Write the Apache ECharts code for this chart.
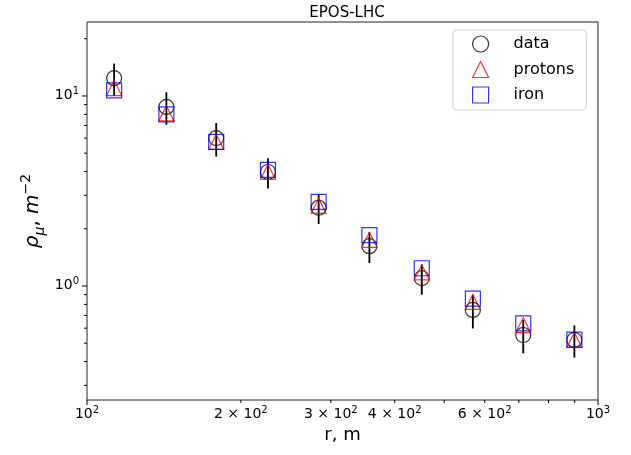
<!DOCTYPE html>
<html>
<head>
<meta charset="utf-8">
<script src="https://cdn.jsdelivr.net/npm/echarts@6/dist/echarts.min.js"></script>
<style>
  html, body { margin: 0; padding: 0; background: #fff; }
  #chart { width: 631px; height: 455px; }
</style>
</head>
<body>
<div id="chart"></div>
<script>
// distance from core, m
const r = [113, 143, 179, 226, 284, 357, 452, 569, 714, 899];
// measured muon density and its error
const dataRho = [12.4, 8.75, 6.0, 3.98, 2.58, 1.62, 1.10, 0.748, 0.552, 0.52];
const dataErr = [2.4, 1.7, 1.2, 0.72, 0.46, 0.30, 0.20, 0.15, 0.11, 0.10];
// EPOS-LHC predictions
const protons = [11.0, 8.09, 5.73, 3.98, 2.64, 1.75, 1.18, 0.824, 0.623, 0.52];
const iron = [10.7, 8.0, 5.73, 4.08, 2.77, 1.85, 1.24, 0.859, 0.635, 0.522];

// ticks (log axes, matplotlib style)
const xTicks = [100, 200, 300, 400, 500, 600, 700, 800, 900, 1000];
const xTickText = ['10^2', '2 × 10^2', '3 × 10^2', '4 × 10^2', '', '6 × 10^2', '', '', '', '10^3'];
const yTicks = [0.3, 0.4, 0.5, 0.6, 0.7, 0.8, 0.9, 1, 2, 3, 4, 5, 6, 7, 8, 9, 10, 20];
const yTickText = ['', '', '', '', '', '', '', '10^0', '', '', '', '', '', '', '', '', '10^1', ''];
const majors = [1, 10, 100, 1000];

const xMin = 100, xMax = 1000, yMin = 0.2512, yMax = 24.5;
const font = 'DejaVu Sans';

const chart = echarts.init(document.getElementById('chart'));

const supRich = {
  b: { fontSize: 14, lineHeight: 18, fontFamily: font, color: '#000' },
  s: { fontSize: 10, lineHeight: 7, verticalAlign: 'top', fontFamily: font, color: '#000' }
};
const toRich = (t) => {
  const p = t.split('^');
  return '{b|' + p[0] + '}{s|' + p[1] + '}';
};

const tickSeries = (axis) => ({
  type: 'custom',
  silent: true,
  clip: false,
  z: 1,
  data: (axis === 'x' ? xTicks : yTicks).map((v, i) => [v, i]),
  renderItem: function (params, api) {
    const v = api.value(0);
    const i = api.value(1);
    const len = majors.indexOf(v) >= 0 ? 5 : 3;
    const txt = axis === 'x' ? xTickText[i] : yTickText[i];
    const children = [];
    if (axis === 'x') {
      const p = api.coord([v, yMin]);
      children.push({ type: 'line', shape: { x1: p[0], y1: p[1], x2: p[0], y2: p[1] + len }, style: { stroke: '#000', lineWidth: 1 } });
      if (txt) children.push({ type: 'text', x: p[0], y: p[1] + 5, style: { text: toRich(txt), rich: supRich, align: 'center', verticalAlign: 'top' } });
    } else {
      const p = api.coord([xMin, v]);
      children.push({ type: 'line', shape: { x1: p[0], y1: p[1], x2: p[0] - len, y2: p[1] }, style: { stroke: '#000', lineWidth: 1 } });
      if (txt) children.push({ type: 'text', x: p[0] - 8, y: p[1] - 1, style: { text: toRich(txt), rich: supRich, align: 'right', verticalAlign: 'middle' } });
    }
    return { type: 'group', children: children };
  }
});

const option = {
  animation: false,
  backgroundColor: '#fff',
  title: {
    text: 'EPOS-LHC',
    left: 342,
    top: 1,
    textAlign: 'center',
    textStyle: { fontFamily: font, fontSize: 15, fontWeight: 'normal', color: '#000' }
  },
  grid: {
    left: 87, right: 33, top: 22, bottom: 55,
    show: true, borderColor: '#222', borderWidth: 1, backgroundColor: 'transparent'
  },
  legend: {
    orient: 'vertical',
    left: 453,
    top: 30,
    padding: [5, 12, 6, 19],
    itemWidth: 16,
    itemHeight: 16,
    itemGap: 7.5,
    backgroundColor: 'rgba(255,255,255,0.85)',
    borderColor: '#d0d0d0',
    borderWidth: 1,
    borderRadius: 4,
    textStyle: { fontFamily: font, fontSize: 16, lineHeight: 18, color: '#000', padding: [0, 0, 0, 20] },
    data: [
      { name: 'data', icon: 'circle', itemStyle: { color: 'rgba(0,0,0,0)', borderColor: '#000', borderWidth: 1.2 } },
      { name: 'protons', icon: 'triangle', itemStyle: { color: 'rgba(0,0,0,0)', borderColor: '#ff0000', borderWidth: 1.2 } },
      { name: 'iron', icon: 'rect', itemStyle: { color: 'rgba(0,0,0,0)', borderColor: '#0000ff', borderWidth: 1.2 } }
    ]
  },
  xAxis: {
    type: 'log',
    logBase: 10,
    min: xMin,
    max: xMax,
    axisLine: { show: false },
    axisTick: { show: false },
    axisLabel: { show: false },
    splitLine: { show: false },
    name: 'r, m',
    nameLocation: 'middle',
    nameGap: 26,
    nameTextStyle: { fontFamily: font, fontSize: 18, color: '#000' }
  },
  yAxis: {
    type: 'log',
    logBase: 10,
    min: yMin,
    max: yMax,
    axisLine: { show: false },
    axisTick: { show: false },
    axisLabel: { show: false },
    splitLine: { show: false },
    name: '{a|ρ}{b|μ}{c|, }{a|m}{d|−2}',
    nameLocation: 'middle',
    nameGap: 40,
    nameTextStyle: {
      rich: {
        a: { fontFamily: font, fontSize: 20, fontStyle: 'italic', lineHeight: 28, color: '#000' },
        b: { fontFamily: font, fontSize: 14, fontStyle: 'italic', lineHeight: 14, verticalAlign: 'bottom', color: '#000' },
        c: { fontFamily: font, fontSize: 20, lineHeight: 28, color: '#000' },
        d: { fontFamily: font, fontSize: 14, lineHeight: 12, verticalAlign: 'top', color: '#000' }
      }
    }
  },
  series: [
    tickSeries('x'),
    tickSeries('y'),
    {
      name: 'errors',
      type: 'custom',
      silent: true,
      clip: false,
      z: 2,
      data: r.map((x, i) => [x, dataRho[i] - dataErr[i], dataRho[i] + dataErr[i]]),
      renderItem: function (params, api) {
        const a = api.coord([api.value(0), api.value(1)]);
        const b = api.coord([api.value(0), api.value(2)]);
        return { type: 'line', shape: { x1: a[0], y1: a[1], x2: b[0], y2: b[1] }, style: { stroke: '#000', lineWidth: 1.8 } };
      }
    },
    {
      name: 'data',
      type: 'scatter',
      symbol: 'circle',
      symbolSize: 15,
      z: 3,
      itemStyle: { color: 'rgba(0,0,0,0)', borderColor: '#000', borderWidth: 1.2 },
      data: r.map((x, i) => [x, dataRho[i]])
    },
    {
      name: 'protons',
      type: 'scatter',
      symbol: 'triangle',
      symbolSize: 15,
      z: 4,
      itemStyle: { color: 'rgba(0,0,0,0)', borderColor: '#ff0000', borderWidth: 1.2 },
      data: r.map((x, i) => [x, protons[i]])
    },
    {
      name: 'iron',
      type: 'scatter',
      symbol: 'rect',
      symbolSize: 15,
      z: 5,
      itemStyle: { color: 'rgba(0,0,0,0)', borderColor: '#0000ff', borderWidth: 1.2 },
      data: r.map((x, i) => [x, iron[i]])
    }
  ]
};

chart.setOption(option);
window.onresize = function () { chart.resize(); };
</script>
</body>
</html>
